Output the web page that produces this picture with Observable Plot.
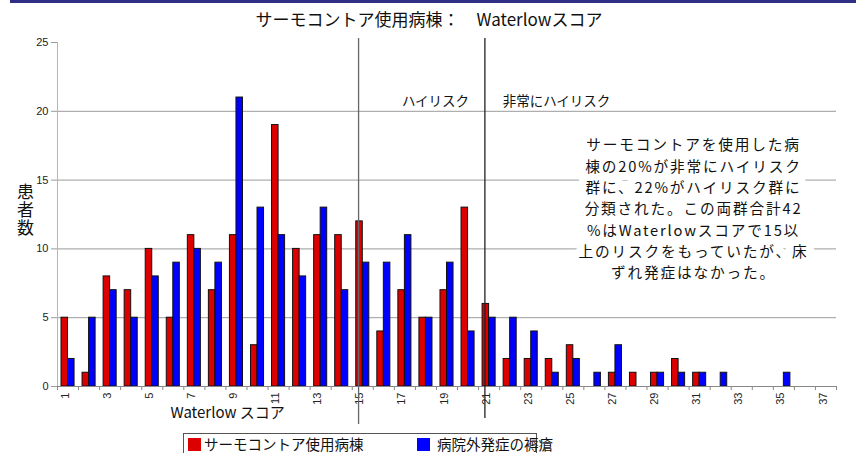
<!DOCTYPE html>
<html><head><meta charset="utf-8">
<script src="https://cdn.jsdelivr.net/npm/d3@7"></script>
<script src="https://cdn.jsdelivr.net/npm/@observablehq/plot@0.6"></script>
<style>
html,body{margin:0;padding:0;background:#fff}
body{width:856px;height:453px;overflow:hidden;position:relative;font-family:"Noto Sans CJK JP","Noto Sans",sans-serif}
#chart{position:absolute;left:0;top:0}
#topbar{position:absolute;left:10px;top:0;width:846px;height:3px;background:#2e2e84}
#legend{position:absolute;left:183px;top:433px;width:352px;height:30px;border:1px solid #555;background:#fff}
.sw{position:absolute;top:4px;width:13px;height:13px}
.lt{position:absolute;top:0px;font-size:14.5px;line-height:20px;color:#111;white-space:nowrap}
</style></head>
<body>
<div id="chart"></div>
<div id="topbar"></div>
<div id="legend"></div>
<script>
// ---- data ----
const scores = [1,2,3,4,5,6,7,8,9,10,11,12,13,14,15,16,17,18,19,20,21,22,23,24,25,26,27,28,29,30,31,32,33,34,35,36,37];
const thermo  = [5,1,8,7,10,5,11,7,11,3,19,10,11,11,12,4,7,5,7,13,6,2,2,2,3,0,1,1,1,2,1,0,0,0,0,0,0];
const outside = [2,5,7,5,8,9,10,9,21,13,11,8,13,7,9,9,11,5,9,4,5,5,4,1,2,1,3,0,1,1,1,1,0,0,1,0,0];
const groups = ["サーモコントア使用病棟", "病院外発症の褥瘡"];
const colors = ["#dd0000", "#0000ff"];
const xTickLabels = [1,3,5,7,9,11,13,15,17,19,21,23,25,27,29,31,33,35,37];
const yTicks = [0,5,10,15,20,25];
const gridValues = [5,10,15,20];
const thresholds = [15, 21];
const riskLabels = ["ハイリスク", "非常にハイリスク"];
const title = "サーモコントア使用病棟：　Waterlowスコア";
const yLabel = "患者数";
const xLabel = "Waterlow スコア";
const note = [
  "サーモコントアを使用した病",
  "棟の20%が非常にハイリスク",
  "群に、22%がハイリスク群に",
  "分類された。この両群合計42",
  "%はWaterlowスコアで15以",
  "上のリスクをもっていたが、床",
  "ずれ発症はなかった。"
];

// ---- table ----
const rows = scores.flatMap((s, i) => [
  {score: s, group: groups[0], n: thermo[i], side: -1},
  {score: s, group: groups[1], n: outside[i], side: 1}
]).filter(d => d.n > 0);
const boundaries = scores.map(s => s - 0.5).concat([scores[scores.length - 1] + 0.5]);
const barW = 0.31;

const numFont = "Liberation Sans, Arial, sans-serif";
const jpFont = "Noto Sans CJK JP, sans-serif";
const noteText = note.join("\n");
const noteStyle = {text: d => d, frameAnchor: "top-left", dx: 636, dy: 165, textAnchor: "middle", lineAnchor: "middle", fontSize: 14.7, lineHeight: 1.448};

const chart = Plot.plot({
  width: 856, height: 453,
  marginLeft: 57, marginRight: 20, marginTop: 42, marginBottom: 67,
  x: {domain: [0.5, 37.5], axis: null},
  y: {domain: [0, 25], axis: null},
  color: {domain: groups, range: colors},
  style: {fontFamily: jpFont, background: "white", color: "#111", overflow: "visible"},
  marks: [
    Plot.ruleY(gridValues, {stroke: "#9a9a9a", strokeWidth: 1}),
    Plot.rectY(rows, {
      x1: d => d.side < 0 ? d.score - barW : d.score,
      x2: d => d.side < 0 ? d.score : d.score + barW,
      y: "n", fill: "group", stroke: "#111", strokeWidth: 1
    }),
    Plot.ruleX([0.5], {stroke: "#b5b5b5"}),
    Plot.ruleY([0], {stroke: "#888"}),
    Plot.axisY(yTicks, {anchor: "left", tickSize: 6, tickPadding: 3, fontSize: 11, fontFamily: numFont, stroke: "#999", fill: "#222", label: null}),
    Plot.axisX(boundaries, {anchor: "bottom", tickSize: 4, tickFormat: () => "", stroke: "#888", label: null}),
    Plot.axisX(xTickLabels, {anchor: "bottom", tickSize: 0, tickPadding: 6, tickRotate: -90, dx: -3, fontSize: 11, fontFamily: numFont, fill: "#222", label: null}),
    Plot.ruleX([thresholds[0]], {x: d => d - 0.2, stroke: "#666", strokeWidth: 1.3, insetTop: -4, insetBottom: -38}),
    Plot.ruleX([thresholds[1]], {x: d => d - 0.2, stroke: "#222", strokeWidth: 1.3, insetTop: -4, insetBottom: -32}),
    Plot.text([title], {text: d => d, frameAnchor: "top", dx: -18, dy: -22, lineAnchor: "middle", fontSize: 17, fill: "#111"}),
    Plot.text([riskLabels[0]], {text: d => d, frameAnchor: "top-left", dx: 378, dy: 59, textAnchor: "middle", lineAnchor: "middle", fontSize: 13.5, fill: "#111"}),
    Plot.text([riskLabels[1]], {text: d => d, frameAnchor: "top-left", dx: 499, dy: 59, textAnchor: "middle", lineAnchor: "middle", fontSize: 13.5, fill: "#111"}),
    // knock-out behind the note (hides the gridlines like the reference's text box)
    Plot.text([noteText], {...noteStyle, fill: "white", stroke: "white", strokeWidth: 16, strokeLinejoin: "round"}),
    Plot.text([noteText], {...noteStyle, fill: "#111"}),
    Plot.text([yLabel], {text: d => d, frameAnchor: "left", dx: -32, dy: -4, textAnchor: "middle", fontSize: 17, fill: "#111"}),
    Plot.text([xLabel], {text: d => d, frameAnchor: "bottom-left", dx: 113, dy: 27, textAnchor: "start", lineAnchor: "middle", fontSize: 15, fill: "#111"})
  ]
});
document.getElementById("chart").appendChild(chart);

// typographic tweaks: letter spacing for the note, vertical writing for the y label
d3.select(chart).selectAll("text").each(function() {
  const t = this.textContent;
  if (t.startsWith(note[0])) {
    this.setAttribute("letter-spacing", "1.8");
  } else if (t === yLabel) {
    const y = this.getAttribute("y");
    if (y && /em$/.test(y)) this.removeAttribute("y");
    this.removeAttribute("dy");
    this.style.writingMode = "vertical-rl";
    this.setAttribute("letter-spacing", "1");
  }
});

// legend
const legend = document.getElementById("legend");
const swLeft = [4, 233];
groups.forEach((g, i) => {
  const sw = document.createElement("div");
  sw.className = "sw";
  sw.style.left = swLeft[i] + "px";
  sw.style.background = colors[i];
  legend.appendChild(sw);
  const t = document.createElement("div");
  t.className = "lt";
  t.style.left = (swLeft[i] + (i === 0 ? 16 : 20)) + "px";
  t.textContent = g;
  legend.appendChild(t);
});
</script>
</body></html>
